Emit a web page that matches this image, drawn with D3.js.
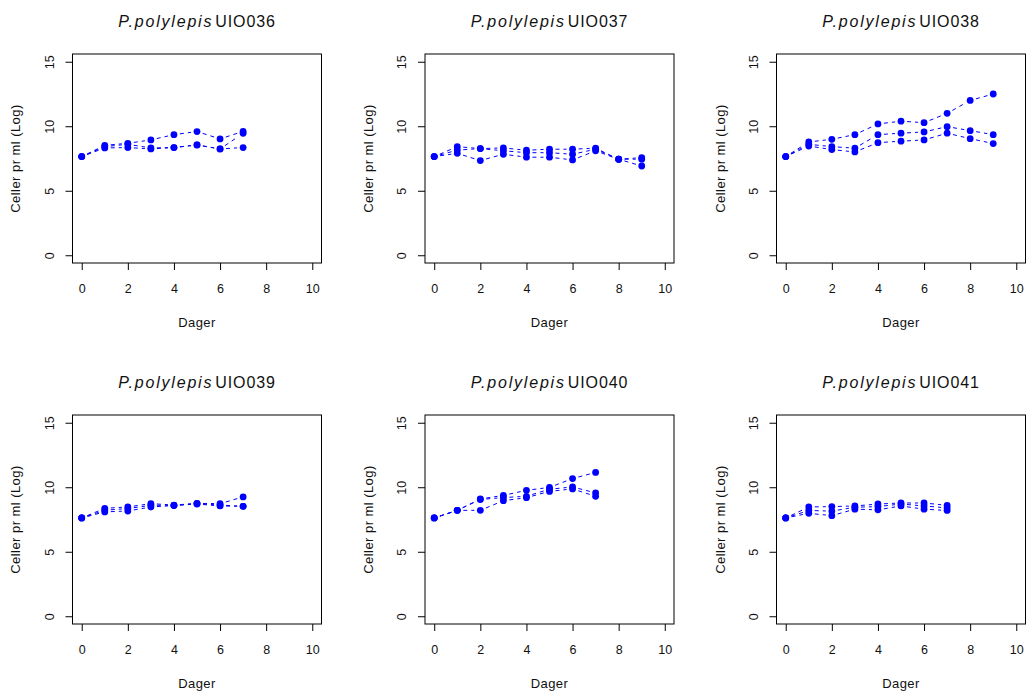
<!DOCTYPE html>
<html>
<head>
<meta charset="utf-8">
<script src="https://cdn.jsdelivr.net/npm/d3@7"></script>
<style>
  html, body { margin: 0; padding: 0; background: #fff; }
  svg { display: block; font-family: "Liberation Sans", Arial, sans-serif; }
</style>
</head>
<body>
<svg id="chart" width="1026" height="695"></svg>
<script>
// ---- data ----
const speciesName = "P.polylepis";
const strains = ["UIO036", "UIO037", "UIO038", "UIO039", "UIO040", "UIO041"];
const xTicks = [0, 2, 4, 6, 8, 10];
const yTicks = [0, 5, 10, 15];
const xLabel = "Dager";
const yLabel = "Celler pr ml (Log)";

const days7 = [0, 1, 2, 3, 4, 5, 6, 7];
const days9 = [0, 1, 2, 3, 4, 5, 6, 7, 8, 9];

const UIO036_r1 = [7.65, 8.52, 8.68, 8.94, 9.35, 9.59, 9.02, 9.60];
const UIO036_r2 = [7.65, 8.42, 8.60, 8.32, 8.35, 8.55, 8.24, 9.45];
const UIO036_r3 = [7.65, 8.32, 8.35, 8.24, 8.35, 8.55, 8.24, 8.35];

const UIO037_r1 = [7.65, 8.42, 8.27, 8.32, 8.14, 8.22, 8.22, 8.30, 7.44, 7.57];
const UIO037_r2 = [7.65, 8.15, 8.27, 8.10, 7.95, 7.95, 7.83, 8.22, 7.44, 7.45];
const UIO037_r3 = [7.65, 7.90, 7.34, 7.83, 7.60, 7.60, 7.39, 8.10, 7.44, 6.92];

const UIO038_r1 = [7.65, 8.78, 8.99, 9.35, 10.18, 10.39, 10.28, 11.00, 12.00, 12.50];
const UIO038_r2 = [7.65, 8.60, 8.42, 8.30, 9.35, 9.46, 9.56, 9.97, 9.66, 9.35];
const UIO038_r3 = [7.65, 8.47, 8.19, 8.01, 8.73, 8.84, 8.94, 9.46, 9.04, 8.66];

const UIO039_r1 = [7.62, 8.37, 8.47, 8.73, 8.62, 8.75, 8.73, 9.25];
const UIO039_r2 = [7.62, 8.22, 8.35, 8.60, 8.60, 8.73, 8.62, 8.52];
const UIO039_r3 = [7.62, 8.09, 8.16, 8.47, 8.58, 8.70, 8.55, 8.52];

const UIO040_r1 = [7.62, 8.21, 9.09, 9.37, 9.76, 9.99, 10.67, 11.15];
const UIO040_r2 = [7.62, 8.21, 9.05, 9.20, 9.30, 9.85, 10.02, 9.56];
const UIO040_r3 = [7.62, 8.21, 8.21, 8.96, 9.19, 9.68, 9.87, 9.30];

const UIO041_r1 = [7.62, 8.47, 8.50, 8.55, 8.70, 8.78, 8.78, 8.60];
const UIO041_r2 = [7.62, 8.20, 8.15, 8.45, 8.50, 8.70, 8.55, 8.40];
const UIO041_r3 = [7.62, 7.98, 7.80, 8.30, 8.25, 8.55, 8.30, 8.20];

const panelDays = [days7, days9, days9, days7, days7, days7];
const panelSeries = [
  [UIO036_r1, UIO036_r2, UIO036_r3],
  [UIO037_r1, UIO037_r2, UIO037_r3],
  [UIO038_r1, UIO038_r2, UIO038_r3],
  [UIO039_r1, UIO039_r2, UIO039_r3],
  [UIO040_r1, UIO040_r2, UIO040_r3],
  [UIO041_r1, UIO041_r2, UIO041_r3]
];

// ---- layout ----
const svg = d3.select("#chart");
const plotW = 249, plotH = 209;
const colX = [72.5, 425, 776.5];
const rowY = [54, 415];
const blue = "#0000FF";

const x = d3.scaleLinear().domain([-0.4, 10.4]).range([0, plotW]);
const y = d3.scaleLinear().domain([-0.6, 15.6]).range([plotH, 0]);

strains.forEach((strain, i) => {
  const cx0 = colX[i % 3];
  const g = svg.append("g")
    .attr("transform", `translate(${cx0},${rowY[Math.floor(i / 3)]})`);

  // box
  g.append("rect").attr("x", 0).attr("y", 0).attr("width", plotW).attr("height", plotH)
    .attr("fill", "none").attr("stroke", "#000").attr("stroke-width", 1);

  // x axis
  const xa = g.append("g").attr("transform", `translate(0,${plotH})`)
    .call(d3.axisBottom(x).tickValues(xTicks).tickSize(7).tickFormat(d3.format("d")));
  xa.select(".domain").remove();
  xa.selectAll("line").attr("stroke", "#000");
  xa.selectAll("text").attr("y", 30).attr("dy", 0)
    .attr("font-size", 12.5).attr("font-family", "Liberation Sans, Arial, sans-serif").attr("fill", "#111");

  // y axis
  const ya = g.append("g")
    .call(d3.axisLeft(y).tickValues(yTicks).tickSize(7).tickFormat(d3.format("d")));
  ya.select(".domain").remove();
  ya.selectAll("line").attr("stroke", "#000");
  ya.selectAll("text")
    .attr("transform", "rotate(-90)")
    .attr("x", 0).attr("y", -19).attr("dy", 0)
    .attr("text-anchor", "middle")
    .attr("font-size", 12.5).attr("font-family", "Liberation Sans, Arial, sans-serif").attr("fill", "#111");

  // title
  const t = g.append("text")
    .attr("x", plotW / 2).attr("y", -27.5)
    .attr("text-anchor", "middle")
    .attr("font-size", 16).attr("fill", "#111");
  t.append("tspan").attr("font-style", "italic").attr("letter-spacing", 1.8).text(speciesName);
  t.append("tspan").attr("dx", 2).attr("letter-spacing", 0.9).text(strain);

  // x label
  g.append("text").attr("x", plotW / 2).attr("y", plotH + 64)
    .attr("text-anchor", "middle").attr("font-size", 13).attr("letter-spacing", 0.4)
    .attr("fill", "#111").text(xLabel);

  // y label (page x ~20 relative to each column's left margin)
  const yLabX = 20 + (i % 3) * 352.5 - cx0;
  g.append("text")
    .attr("transform", `translate(${yLabX},${plotH / 2}) rotate(-90)`)
    .attr("text-anchor", "middle").attr("font-size", 13).attr("letter-spacing", 0.45)
    .attr("fill", "#111").text(yLabel);

  // series: type "b" dashed lines with gaps around points
  const days = panelDays[i];
  const gap = 6;
  panelSeries[i].forEach(vals => {
    const pts = days.map((d, k) => [x(d), y(vals[k])]);
    for (let k = 0; k < pts.length - 1; k++) {
      const [x0, y0] = pts[k], [x1, y1] = pts[k + 1];
      const dx = x1 - x0, dy = y1 - y0, len = Math.hypot(dx, dy);
      if (len <= 2 * gap) continue;
      const ux = dx / len, uy = dy / len;
      g.append("line")
        .attr("x1", x0 + ux * gap).attr("y1", y0 + uy * gap)
        .attr("x2", x1 - ux * gap).attr("y2", y1 - uy * gap)
        .attr("stroke", blue).attr("stroke-width", 1)
        .attr("stroke-dasharray", "4,4");
    }
    g.selectAll(null).data(pts).enter().append("circle")
      .attr("cx", d => d[0]).attr("cy", d => d[1]).attr("r", 3.4)
      .attr("fill", blue);
  });
});
</script>
</body>
</html>
